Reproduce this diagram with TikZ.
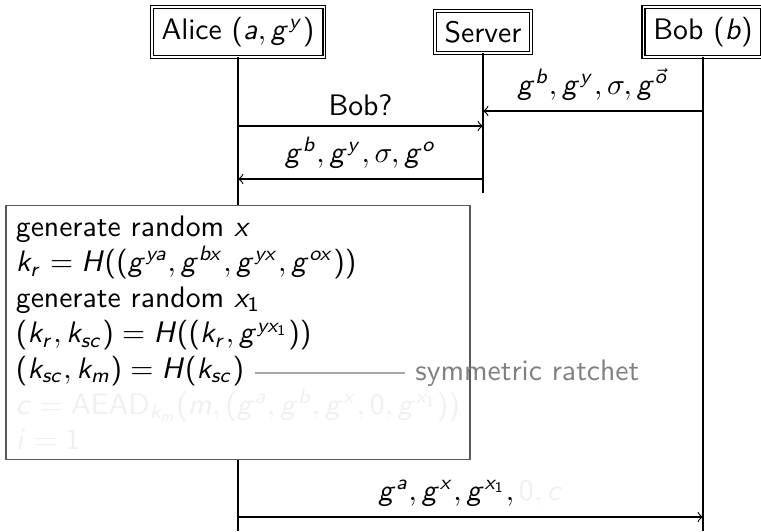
\documentclass[tikz,border=0pt]{standalone}
\usepackage{amsmath}
\usepackage{xcolor}
\usepackage{tikz}
\usetikzlibrary{positioning}
\renewcommand{\familydefault}{\sfdefault}
% sans serif letters in math
\DeclareSymbolFont{sfletters}{OT1}{cmss}{m}{sl}
\SetSymbolFont{operators}{normal}{OT1}{cmss}{m}{n}
\DeclareMathSymbol{a}{\mathalpha}{sfletters}{`a}
\DeclareMathSymbol{b}{\mathalpha}{sfletters}{`b}
\DeclareMathSymbol{c}{\mathalpha}{sfletters}{`c}
\DeclareMathSymbol{g}{\mathalpha}{sfletters}{`g}
\DeclareMathSymbol{i}{\mathalpha}{sfletters}{`i}
\DeclareMathSymbol{k}{\mathalpha}{sfletters}{`k}
\DeclareMathSymbol{m}{\mathalpha}{sfletters}{`m}
\DeclareMathSymbol{o}{\mathalpha}{sfletters}{`o}
\DeclareMathSymbol{r}{\mathalpha}{sfletters}{`r}
\DeclareMathSymbol{s}{\mathalpha}{sfletters}{`s}
\DeclareMathSymbol{x}{\mathalpha}{sfletters}{`x}
\DeclareMathSymbol{y}{\mathalpha}{sfletters}{`y}
\DeclareMathSymbol{H}{\mathalpha}{sfletters}{`H}
\colorlet{faded}{black!6}
\colorlet{notetext}{black!50}
\colorlet{noteline}{black!35}
\tikzset{
	instance/.style={draw, double, fill=white},
	compute/.style={draw=black!65, fill=white, align=left},
	note/.style={text=notetext},
}

\begin{document}
\begin{tikzpicture}[x=0.337pt, y=-0.337pt, >=to]
		\useasboundingbox (0,0) rectangle (761,531);
		% participants
		\node[instance] (alice) at (238,32) {Alice \((a,g^y)\)};
		\node[instance] (server) at (483,32) {Server};
		\node[instance] (bob) at (703,32) {Bob \((b)\)};
		\coordinate (aliceend) at (238,531);
		\coordinate (serverend) at (483,193);
		\coordinate (bobend) at (703,531);
		\draw (alice) -- (aliceend);
		\draw (server) -- (serverend);
		\draw (bob) -- (bobend);
		% messages
		\coordinate (b1) at (703,111);
		\coordinate (s1) at (483,111);
		\draw[->] (b1) -- node[above] (upload) {\(g^b, g^y, \sigma, g^{\vec{o}}\)} (s1);
		\coordinate (a2) at (238,126);
		\coordinate (s2) at (483,126);
		\draw[->] (a2) -- node[above] (ask) {Bob?} (s2);
		\coordinate (s3) at (483,179);
		\coordinate (a3) at (238,179);
		\draw[->] (s3) -- node[above] (bundle) {\(g^b, g^y, \sigma, g^o\)} (a3);
		% key computation at Alice
		\node[compute, anchor=north] (keys) at (238,205) {generate random \(x\)\\
			\(k_r = H((g^{ya}, g^{bx}, g^{yx}, g^{ox}))\)\\
			generate random \(x_1\)\\
			\((k_r, k_{sc}) = H((k_r, g^{yx_1}))\)\\
			\((k_{sc}, k_m) = H(k_{sc})\)\\
			\textcolor{faded}{\(c = \mathrm{AEAD}_{k_m}(m, (g^a, g^b, g^x, 0, g^{x_1}))\)}\\
			\textcolor{faded}{\(i = 1\)}};
		\coordinate (ratchetfrom) at (255,373);
		\node[note, anchor=west] (ratchet) at (405,373) {symmetric ratchet};
		\draw[noteline] (ratchetfrom) -- (ratchet);
		% first message to Bob
		\coordinate (a4) at (238,517);
		\coordinate (b4) at (703,517);
		\draw[->] (a4) -- node[above] (first) {\(g^a, g^x, g^{x_1}, \textcolor{faded}{0, c}\)} (b4);
	\end{tikzpicture}
\end{document}
